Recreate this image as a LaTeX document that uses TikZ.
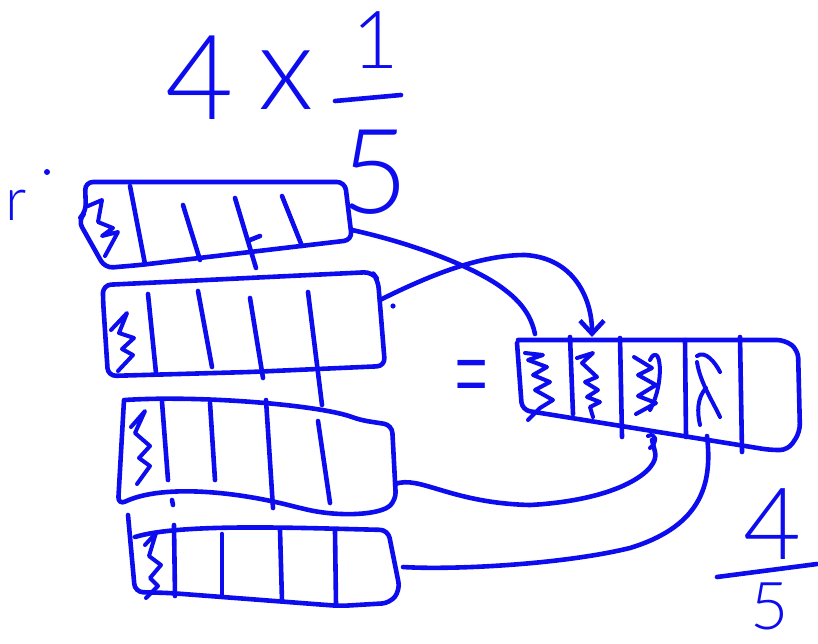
\documentclass[tikz,border=0pt]{standalone}
\usepackage{fontspec}
\IfFontExistsTF{Lato Light}{\newfontfamily\handfont{Lato Light}}{\newfontfamily\handfont{Latin Modern Sans}}
\usetikzlibrary{arrows.meta}
\definecolor{ink}{RGB}{12,12,238}
\begin{document}
\begin{tikzpicture}[x=1pt,y=-1pt,line width=4.6pt,line cap=round,line join=round,
  barline/.style={draw=ink,rounded corners=8pt},
  divline/.style={draw=ink},
  hatch/.style={draw=ink,line width=4pt},
  link/.style={draw=ink},
  hand/.style={text=ink,inner sep=0pt,font=\handfont}]
\useasboundingbox (0,0) rectangle (818,643);

% ---- heading 4 x 1/5
\node[hand,font=\handfont\fontsize{118}{118}\selectfont] (four) at (200,78) {4};
\node[hand,font=\handfont\fontsize{118}{118}\selectfont] (times) at (286,80) {x};
\node[hand,font=\handfont\fontsize{80}{80}\selectfont] (one) at (376,40) {1};
\coordinate (fb1) at (335,101); \coordinate (fb2) at (401,95);
\draw[divline] (fb1) -- (fb2);
\node[hand,font=\handfont\fontsize{118}{118}\selectfont] (five) at (375,172) {5};

% ---- stray mark
\node[hand,font=\handfont\fontsize{60}{60}\selectfont] (rmark) at (16,205) {r};
\fill[ink] (47,172) circle (3pt);

% ---- bar 1
\draw[barline] (85,182) -- (345,182) -- (352,240) -- (250,252) -- (140,265) -- (105,268) -- (78,220) -- (86,212) -- cycle;
\draw[divline] (130,186) -- (145,264);
\draw[divline] (183,205) -- (200,260);
\draw[divline] (235,198) -- (256,268);
\draw[divline] (282,196) -- (302,246);
\draw[divline] (250,240) -- (260,236);
\draw[hatch] (88,206) -- (102,200) -- (98,222) -- (113,228) -- (102,236) -- (118,232) -- (105,256);
\coordinate (b1e) at (352,230);

% ---- bar 2
\draw[barline] (103,285) -- (372,272) -- (378,280) -- (385,366) -- (250,372) -- (108,376) -- (103,300) -- cycle;
\draw[divline] (148,294) -- (156,373);
\draw[divline] (198,291) -- (212,367);
\draw[divline] (250,298) -- (263,378);
\draw[divline] (308,292) -- (322,405);
\draw[hatch] (111,330) -- (127,313) -- (119,333) -- (134,338) -- (122,349) -- (133,355) -- (118,371);
\coordinate (b2e) at (380,300);
\fill[ink] (393,306) circle (2.6pt);

% ---- bar 3
\draw[barline] (125,400) .. controls (200,395) and (320,405) .. (360,420) -- (392,425) -- (396,500) .. controls (380,515) and (340,517) .. (300,508)
  .. controls (230,490) and (160,485) .. (118,505) -- (124,400);
\draw[divline] (162,402) -- (168,480);
\draw[divline] (210,403) -- (215,480);
\draw[divline] (266,400) -- (273,508);
\draw[divline] (318,421) -- (330,503);
\draw[hatch] (131,427) -- (145,411) -- (135,433) -- (150,446) -- (139,458) -- (150,466) -- (137,484);
\draw[divline] (172,500) -- (173,505);
\coordinate (b3e) at (395,484);

% ---- bar 4
\draw[barline] (135,537) .. controls (180,523) and (300,528) .. (388,530) -- (400,590) -- (390,603) -- (340,606) -- (170,593) -- (135,592) -- (128,515);
\draw[divline] (174,525) -- (175,596);
\draw[divline] (222,534) -- (222,595);
\draw[divline] (280,530) -- (282,601);
\draw[divline] (335,531) -- (336,605);
\draw[hatch] (145,545) -- (156,533) -- (149,556) -- (161,565) -- (150,578) -- (158,586) -- (146,598);
\coordinate (b4e) at (403,567);

% ---- equals
\node[hand,font=\handfont\fontsize{66}{66}\selectfont,yscale=2.2] (eq) at (472,392) {=};

% ---- result bar
\draw[barline] (518,340) -- (785,340) -- (798,350) -- (800,432) -- (788,450) -- (770,450) -- (522,410) -- (517,343);
\draw[divline] (570,337) -- (573,414);
\draw[divline] (620,338) -- (622,437);
\draw[divline] (685,340) -- (686,437);
\draw[divline] (740,337) -- (742,452);
\draw[hatch] (525,353) -- (543,355) -- (528,360) -- (547,367) -- (533,375) -- (550,382) -- (535,390) -- (553,400) -- (540,408) -- (528,420);
\draw[hatch] (577,358) -- (593,353) -- (582,363) -- (597,377) -- (585,382) -- (598,390) -- (587,397) -- (600,402) -- (590,407) -- (593,417);
\draw[hatch] (634,357) -- (652,368) -- (638,375) -- (656,385) -- (638,396) -- (656,403) -- (636,414);
\draw[hatch] (650,360) .. controls (660,340) and (666,380) .. (650,410);
\draw[hatch] (648,436) .. controls (656,432) and (658,442) .. (650,448);
\draw[hatch] (697,356) .. controls (705,350) and (715,362) .. (720,372);
\draw[hatch] (697,362) .. controls (700,382) and (712,400) .. (720,417);
\draw[hatch] (706,388) .. controls (697,398) and (697,412) .. (700,425);
\coordinate (r1n) at (535,334);
\coordinate (r2n) at (592,337);
\coordinate (r3s) at (652,440);
\coordinate (r4s) at (707,436);

% ---- connectors
\draw[link] (b1e) .. controls (420,245) and (480,270) .. (505,290) .. controls (525,305) and (532,320) .. (r1n);
\draw[link,-{Straight Barb[length=13pt,width=24pt]}] (b2e) .. controls (430,275) and (480,255) .. (525,255) .. controls (575,258) and (592,300) .. (r2n);
\draw[link] (b3e) .. controls (420,475) and (450,503) .. (530,505) .. controls (620,500) and (660,470) .. (655,452) -- (r3s);
\draw[link] (b4e) .. controls (450,570) and (560,565) .. (630,548) .. controls (705,525) and (712,480) .. (r4s);

% ---- result fraction 4/5
\node[hand,font=\handfont\fontsize{100}{100}\selectfont] (rfour) at (772,524) {4};
\coordinate (rb1) at (717,577); \coordinate (rb2) at (817,564);
\draw[divline] (rb1) -- (rb2);
\node[hand,font=\handfont\fontsize{66}{66}\selectfont] (rfive) at (770,606) {5};
\end{tikzpicture}
\end{document}
